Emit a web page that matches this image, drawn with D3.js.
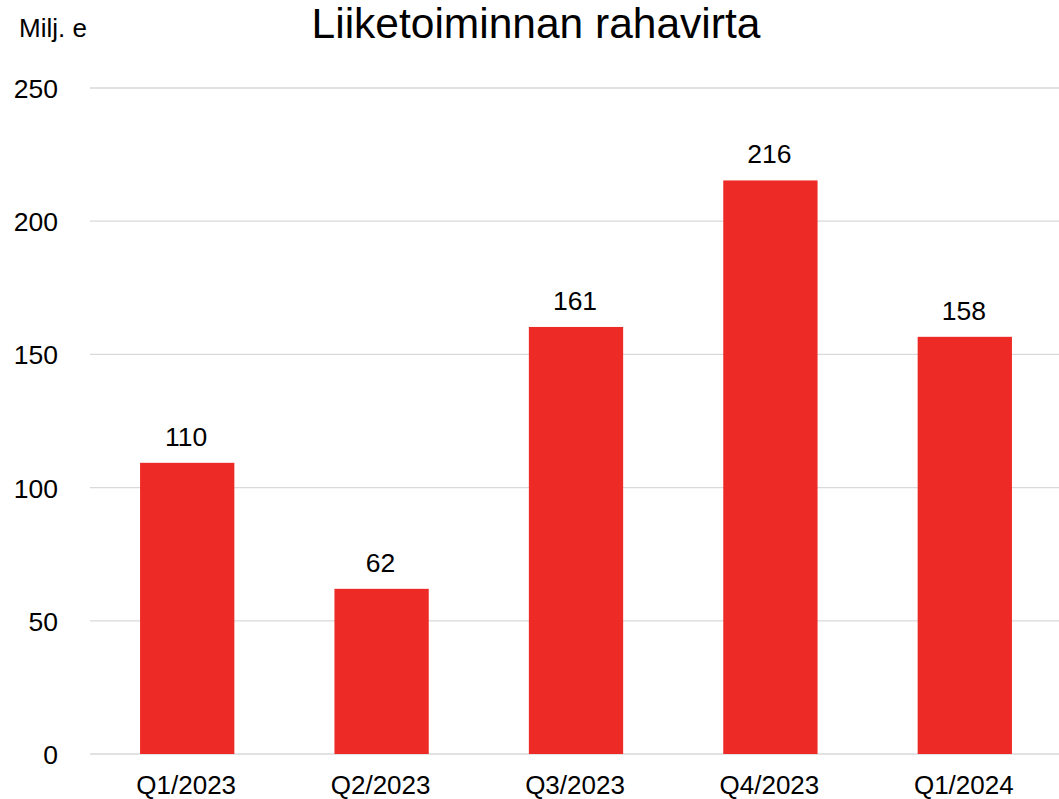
<!DOCTYPE html>
<html><head><meta charset="utf-8">
<script src="https://cdn.jsdelivr.net/npm/d3@7/dist/d3.min.js"></script>
<style>body{margin:0;background:#fff}svg{display:block}text{font-family:"Liberation Sans",Arial,sans-serif;fill:#000}</style>
</head><body>
<svg id="c" width="1059" height="799"></svg>
<script>
const categories = ["Q1/2023","Q2/2023","Q3/2023","Q4/2023","Q1/2024"];
const values = [109.3, 62, 160.3, 215.3, 156.6];
const valueLabels = ["110", "62", "161", "216", "158"];
const tickValues = [0, 50, 100, 150, 200, 250];
const title = "Liiketoiminnan rahavirta";
const unitLabel = "Milj. e";

const svg = d3.select("#c");
const x = d3.scaleBand().domain(categories).range([90, 1062]).paddingInner(0.515).paddingOuter(0.2575);
const y = d3.scaleLinear().domain([0, 250]).range([754, 88]);

svg.append("g").selectAll("line").data(tickValues).join("line")
  .attr("x1", 90).attr("x2", 1059)
  .attr("y1", d => y(d)).attr("y2", d => y(d))
  .attr("stroke", "#d9d9d9").attr("stroke-width", 1.3);

svg.append("g").selectAll("text").data(tickValues).join("text")
  .attr("x", 58).attr("y", d => y(d) + 10)
  .attr("text-anchor", "end").attr("font-size", 26.5).text(d => d);

svg.append("g").selectAll("rect").data(values).join("rect")
  .attr("x", (d, i) => x(categories[i])).attr("width", x.bandwidth())
  .attr("y", d => y(d)).attr("height", d => y(0) - y(d))
  .attr("fill", "#ee2a27");

svg.append("g").selectAll("text").data(values).join("text")
  .attr("x", (d, i) => x(categories[i]) + x.bandwidth() / 2 - 1)
  .attr("y", d => y(d) - 17)
  .attr("text-anchor", "middle").attr("font-size", 26.5).text((d, i) => valueLabels[i]);

svg.append("g").selectAll("text").data(categories).join("text")
  .attr("x", d => x(d) + x.bandwidth() / 2 - 1).attr("y", 794)
  .attr("text-anchor", "middle").attr("font-size", 26).text(d => d);

svg.append("text").attr("x", 536).attr("y", 38).attr("text-anchor", "middle")
  .attr("font-size", 42.5).text(title);
svg.append("text").attr("x", 19).attr("y", 37).attr("font-size", 26).text(unitLabel);
</script>
</body></html>
